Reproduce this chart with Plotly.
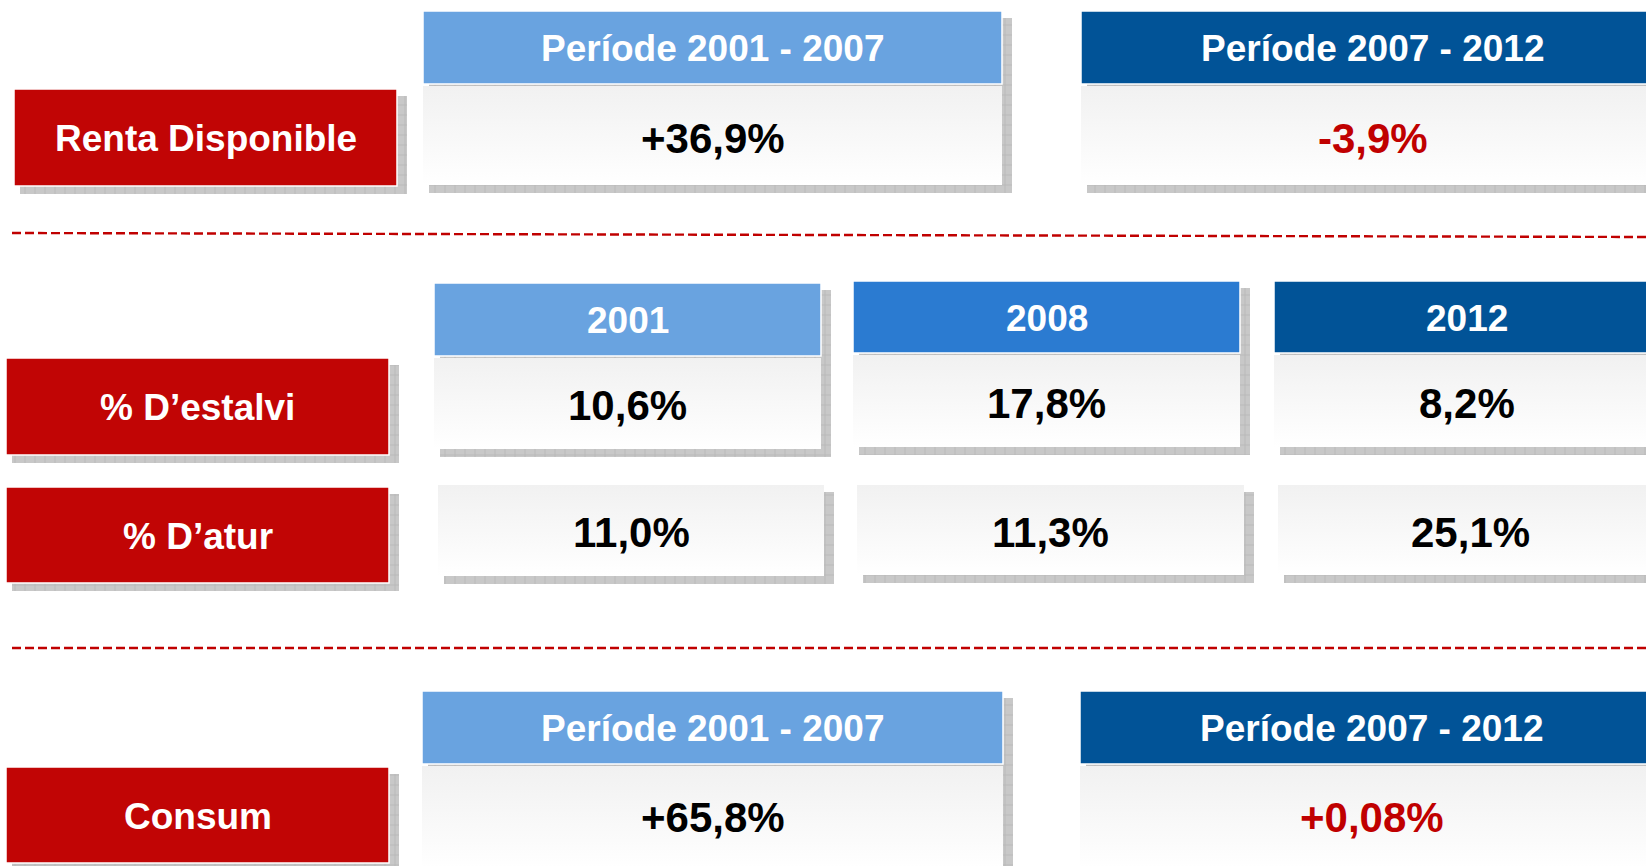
import plotly.graph_objects as go

# ---------------- data ----------------
row_labels = ["Renta Disponible", "% D’estalvi", "% D’atur", "Consum"]
periods = ["Període 2001 - 2007", "Període 2007 - 2012"]
years = ["2001", "2008", "2012"]
renta_values = ["+36,9%", "-3,9%"]
estalvi_values = ["10,6%", "17,8%", "8,2%"]
atur_values = ["11,0%", "11,3%", "25,1%"]
consum_values = ["+65,8%", "+0,08%"]

# ---------------- style ----------------
W, H = 1646, 866
RED = "#c10505"
RED_TXT = "#c00000"
BLUE_L = "#69a3e0"
BLUE_M = "#2b7bd1"
BLUE_D = "#015397"
FONT = "Liberation Sans, Arial, Helvetica, sans-serif"
HDR_SIZE = 37
VAL_SIZE = 42

fig = go.Figure()
shapes = []
annotations = []


def shadow(x0, y0, x1, y1):
    fig.add_trace(go.Scatter(
        x=[x0 + 6, x1 + 10, x1 + 10, x0 + 6, x0 + 6],
        y=[y0 + 7, y0 + 7, y1 + 8, y1 + 8, y0 + 7],
        fill="toself", mode="none", hoverinfo="skip", showlegend=False,
        fillcolor="#c4c4c4",
        fillpattern=dict(shape="+", bgcolor="#c8c8c8", fgcolor="#a4a4a4",
                         size=10, solidity=0.15),
    ))


def body(x0, y0, x1, y1):
    fig.add_trace(go.Scatter(
        x=[x0, x1, x1, x0, x0], y=[y0, y0, y1, y1, y0],
        fill="toself", mode="none", hoverinfo="skip", showlegend=False,
        fillcolor="#f7f7f7",
        fillgradient=dict(type="vertical", start=y0, stop=y1,
                          colorscale=[[0, "#f1f1f1"], [1, "#ffffff"]]),
    ))


def rect(x0, y0, x1, y1, color):
    shapes.append(dict(type="rect", xref="x", yref="y", x0=x0, y0=y0, x1=x1, y1=y1,
                       fillcolor=color, line=dict(color="white", width=1.5),
                       layer="above"))


def text(x, y, s, size, color):
    annotations.append(dict(x=x, y=y, xref="x", yref="y", text=s, showarrow=False,
                            xanchor="center", yanchor="middle",
                            font=dict(family=FONT, size=size, color=color, weight="bold")))


def label_box(x0, y0, x1, y1, s):
    shadow(x0, y0, x1, y1)
    rect(x0, y0, x1, y1, RED)
    text((x0 + x1) / 2, (y0 + y1) / 2 + 1, s, HDR_SIZE, "white")


def card(x0, x1, yt, yh, yb, hcolor, htext, vtext, vcolor, vy=None):
    shadow(x0, yt, x1, yb)
    body(x0, yh + 2, x1, yb)
    if htext is not None:
        rect(x0, yt, x1, yh, hcolor)
        text((x0 + x1) / 2, (yt + yh) / 2 + 1, htext, HDR_SIZE, "white")
    if vy is None:
        vy = (yh + 2 + yb) / 2 + 2
    text((x0 + x1) / 2, vy, vtext, VAL_SIZE, vcolor)


# ---------- section 1: Renta disponible ----------
label_box(14, 89, 397, 186, row_labels[0])
card(423, 1002, 11, 84, 185, BLUE_L, periods[0], renta_values[0], "black", vy=138)
card(1081, 1665, 11, 84, 185, BLUE_D, periods[1], renta_values[1], RED_TXT, vy=138)

# separator 1
shapes.append(dict(type="line", xref="x", yref="y", x0=12, y0=233, x1=W, y1=237,
                   line=dict(color="#c00000", width=2.4, dash="9px,4px")))

# ---------- section 2: estalvi / atur ----------
label_box(6, 358, 389, 455, row_labels[1])
label_box(6, 487, 389, 583, row_labels[2])

year_cols = [(434, 821, 283, 356, 449), (853, 1240, 281, 353, 447), (1274, 1660, 281, 353, 447)]
year_colors = [BLUE_L, BLUE_M, BLUE_D]
atur_cols = [(438, 824, 485, 576), (857, 1244, 485, 575), (1278, 1662, 485, 575)]
for i in range(3):
    x0, x1, yt, yh, yb = year_cols[i]
    card(x0, x1, yt, yh, yb, year_colors[i], years[i], estalvi_values[i], "black")
    ax0, ax1, ayt, ayb = atur_cols[i]
    card(ax0, ax1, ayt, ayt - 2, ayb, None, None, atur_values[i], "black")

# separator 2
shapes.append(dict(type="line", xref="x", yref="y", x0=12, y0=648, x1=W, y1=648,
                   line=dict(color="#c00000", width=2.4, dash="9px,4px")))

# ---------- section 3: consum ----------
label_box(6, 767, 389, 863, row_labels[3])
card(422, 1003, 691, 764, 870, BLUE_L, periods[0], consum_values[0], "black", vy=817)
card(1080, 1663, 691, 764, 870, BLUE_D, periods[1], consum_values[1], RED_TXT, vy=817)

fig.update_layout(
    width=W, height=H,
    margin=dict(l=0, r=0, t=0, b=0, pad=0),
    paper_bgcolor="white", plot_bgcolor="white",
    xaxis=dict(range=[0, W], visible=False, fixedrange=True),
    yaxis=dict(range=[H, 0], visible=False, fixedrange=True),
    shapes=shapes, annotations=annotations,
    showlegend=False,
)

fig.write_html("out.html", config=dict(displayModeBar=False),
               post_script="document.body.style.margin='0';")
